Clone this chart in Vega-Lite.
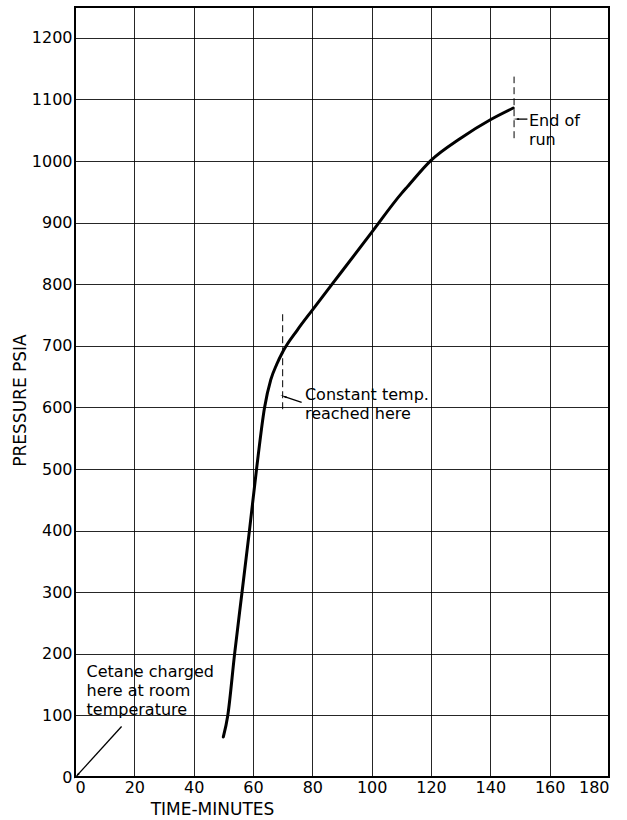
{
  "$schema": "https://vega.github.io/schema/vega-lite/v6.json",
  "autosize": "none",
  "width": 534,
  "height": 770,
  "padding": {"left": 75, "top": 7, "right": 18, "bottom": 43},
  "background": "white",
  "config": {
    "font": "DejaVu Sans",
    "view": {"stroke": "black", "strokeWidth": 2},
    "axis": {
      "grid": true,
      "gridColor": "black",
      "gridWidth": 1,
      "gridOpacity": 0.85,
      "domain": false,
      "ticks": false,
      "labelFont": "DejaVu Sans",
      "labelFontSize": 16,
      "labelColor": "black",
      "titleFont": "DejaVu Sans",
      "titleFontSize": 17,
      "titleFontWeight": "normal",
      "titleColor": "black"
    }
  },
  "datasets": {
    "curve": [
      {"t": 50, "p": 65},
      {"t": 51.5, "p": 100},
      {"t": 53.8, "p": 200},
      {"t": 56.3, "p": 300},
      {"t": 58.8, "p": 400},
      {"t": 61.2, "p": 500},
      {"t": 63.9, "p": 600},
      {"t": 66, "p": 645},
      {"t": 68, "p": 670},
      {"t": 70, "p": 690},
      {"t": 75, "p": 726},
      {"t": 80, "p": 758},
      {"t": 90, "p": 821},
      {"t": 100, "p": 884},
      {"t": 110, "p": 947},
      {"t": 112, "p": 958},
      {"t": 120, "p": 1001},
      {"t": 130, "p": 1037},
      {"t": 140, "p": 1067},
      {"t": 147.7, "p": 1086}
    ],
    "notes": [
      {"t": 3.9, "p": 183, "label": "Cetane charged\nhere at room\ntemperature"},
      {"t": 77.5, "p": 633, "label": "Constant temp.\nreached here"},
      {"t": 153, "p": 1078, "label": "End of\nrun"}
    ],
    "markers": [
      {"t": 70, "p": 597, "p2": 755},
      {"t": 148, "p": 1037, "p2": 1137}
    ],
    "arrows": [
      {"name": "charged", "t": 15.7, "p": 82, "t2": 0.8, "p2": 3},
      {"name": "constant", "t": 76.4, "p": 608, "t2": 70.6, "p2": 617.5},
      {"name": "end", "t": 152.5, "p": 1068, "t2": 149, "p2": 1068}
    ]
  },
  "encoding": {
    "x": {
      "field": "t",
      "type": "quantitative",
      "scale": {"domain": [0, 180], "nice": false, "zero": false},
      "axis": {
        "values": [0, 20, 40, 60, 80, 100, 120, 140, 160, 180],
        "format": "d",
        "labelPadding": 2,
        "title": "TIME-MINUTES",
        "titleX": 137,
        "titleY": 32,
        "titleAnchor": "start",
        "titleAlign": "center",
        "titleBaseline": "middle"
      }
    },
    "y": {
      "field": "p",
      "type": "quantitative",
      "scale": {"domain": [0, 1250], "nice": false, "zero": false},
      "axis": {
        "values": [0, 100, 200, 300, 400, 500, 600, 700, 800, 900, 1000, 1100, 1200],
        "format": "d",
        "labelPadding": 3,
        "title": "PRESSURE  PSIA",
        "titleAngle": 270,
        "titleX": -55,
        "titleY": 393,
        "titleAlign": "center",
        "titleBaseline": "middle"
      }
    }
  },
  "layer": [
    {
      "data": {"name": "curve"},
      "mark": {"type": "line", "color": "black", "strokeWidth": 3, "interpolate": "monotone", "strokeCap": "round"}
    },
    {
      "data": {"name": "markers"},
      "mark": {"type": "rule", "color": "black", "strokeWidth": 1, "strokeDash": [7, 4]},
      "encoding": {"y2": {"field": "p2"}}
    },
    {
      "data": {"name": "arrows"},
      "mark": {"type": "rule", "color": "black", "strokeWidth": 1.3},
      "encoding": {"x2": {"field": "t2"}, "y2": {"field": "p2"}}
    },
    {
      "data": {"name": "arrows"},
      "transform": [{"filter": "datum.name === 'charged'"}],
      "mark": {"type": "point", "shape": "wedge", "filled": true, "color": "black", "size": 70, "angle": 223, "opacity": 1},
      "encoding": {"x": {"field": "t2"}, "y": {"field": "p2"}}
    },
    {
      "data": {"name": "arrows"},
      "transform": [{"filter": "datum.name === 'constant'"}],
      "mark": {"type": "point", "shape": "wedge", "filled": true, "color": "black", "size": 60, "angle": 290, "opacity": 1},
      "encoding": {"x": {"field": "t2"}, "y": {"field": "p2"}}
    },
    {
      "data": {"name": "arrows"},
      "transform": [{"filter": "datum.name === 'end'"}],
      "mark": {"type": "point", "shape": "wedge", "filled": true, "color": "black", "size": 50, "angle": 270, "opacity": 1},
      "encoding": {"x": {"field": "t2"}, "y": {"field": "p2"}}
    },
    {
      "data": {"name": "notes"},
      "mark": {"type": "text", "align": "left", "baseline": "top", "fontSize": 16, "lineHeight": 19, "lineBreak": "\n", "color": "black", "font": "DejaVu Sans"},
      "encoding": {"text": {"field": "label"}}
    }
  ]
}
